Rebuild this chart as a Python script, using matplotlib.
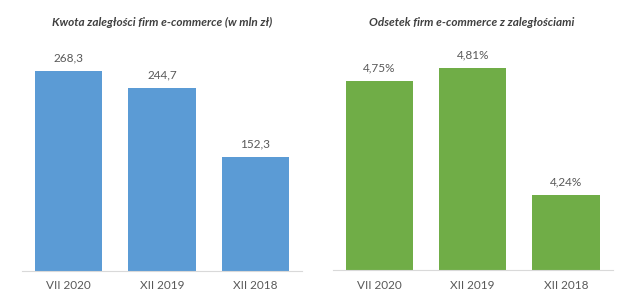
import matplotlib
matplotlib.use("Agg")
import matplotlib.pyplot as plt

plt.rcParams['font.family'] = ['Lato', 'DejaVu Sans']

# dane
okresy = ["VII 2020", "XII 2019", "XII 2018"]
kwota = [268.3, 244.7, 152.3]          # mln zł
odsetek = [4.75, 4.81, 4.24]           # %

tytul_lewy = "Kwota zaległości firm e-commerce (w mln zł)"
tytul_prawy = "Odsetek firm e-commerce z zaległościami"

kolor_tekstu = "#595959"
kolor_osi = "#D9D9D9"

fig = plt.figure(figsize=(6.39, 2.94), dpi=100)

ax1 = fig.add_axes([22 / 639, 23.3 / 294, 280 / 639, 230.7 / 294])
ax2 = fig.add_axes([332.7 / 639, 24 / 294, 280 / 639, 230 / 294])


def rysuj(ax, wartosci, kolor, fmt, ymin, ymax):
    x = range(len(wartosci))
    bars = ax.bar(x, wartosci, width=0.72, color=kolor, bottom=0)
    ax.set_xlim(-0.5, len(wartosci) - 0.5)
    ax.set_ylim(ymin, ymax)
    for b, v in zip(bars, wartosci):
        ax.annotate(fmt(v), (b.get_x() + b.get_width() / 2, v),
                    xytext=(0, 9.4), textcoords="offset points",
                    ha="center", va="center", fontsize=8.5, color=kolor_tekstu)
    ax.set_xticks(list(x))
    ax.set_xticklabels(okresy, fontsize=8.5, color=kolor_tekstu)
    ax.tick_params(axis="x", length=0, pad=7)
    ax.set_yticks([])
    for s in ["top", "left", "right"]:
        ax.spines[s].set_visible(False)
    ax.spines["bottom"].set_color(kolor_osi)
    ax.spines["bottom"].set_linewidth(0.8)


rysuj(ax1, kwota, "#5B9BD5", lambda v: f"{v:.1f}".replace(".", ","), 0, 309.5)
rysuj(ax2, odsetek, "#70AD47", lambda v: f"{v:.2f}%".replace(".", ","), 3.9, 4.936)
# słupki zielone zaczynają się od 3.9 (oś nie od zera)
for b in ax2.patches:
    b.set_y(3.9)
    b.set_height(b.get_height() - 3.9)

fig.text(162 / 639, 1 - 22 / 294, tytul_lewy, ha="center", va="center",
         fontsize=8.5, fontweight="bold", fontstyle="italic", color="#404040")
fig.text(472 / 639, 1 - 22 / 294, tytul_prawy, ha="center", va="center",
         fontsize=8.5, fontweight="bold", fontstyle="italic", color="#404040")

fig.savefig("out.png", dpi=100, facecolor="white")
